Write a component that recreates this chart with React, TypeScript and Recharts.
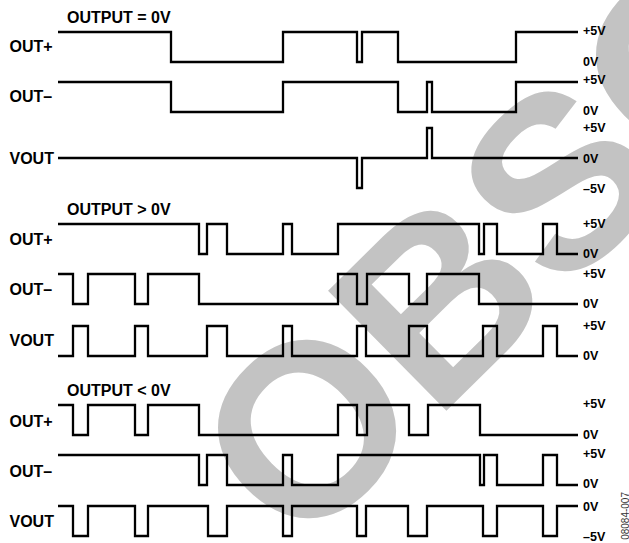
import React from 'react';
import { ComposedChart, Line, XAxis, YAxis } from 'recharts';

const W = 629;
const H = 543;

// Waveforms: [time, volts] – each level holds until the next time point
const S1_OUT_PLUS = [[0, 5], [113, 0], [225, 5], [299, 0], [304, 5], [340, 0], [458, 5], [520, 5]];
const S1_OUT_MINUS = [[0, 5], [113, 0], [225, 5], [340, 0], [369, 5], [374, 0], [458, 5], [520, 5]];
const S1_VOUT = [[0, 0], [299, -5], [304, 0], [369, 5], [374, 0], [520, 0]];

const S2_OUT_PLUS = [[0, 5], [141, 0], [149, 5], [169, 0], [225, 5], [234, 0], [280, 5], [421, 0], [426, 5], [439, 0], [485, 5], [499, 0], [520, 0]];
const S2_OUT_MINUS = [[0, 5], [15, 0], [30, 5], [77, 0], [90, 5], [141, 0], [280, 5], [299, 0], [309, 5], [351, 0], [369, 5], [421, 0], [520, 0]];
const S2_VOUT = [[0, 0], [15, 5], [30, 0], [77, 5], [90, 0], [149, 5], [169, 0], [225, 5], [234, 0], [299, 5], [308, 0], [351, 5], [369, 0], [425, 5], [439, 0], [485, 5], [499, 0], [520, 0]];

const S3_OUT_PLUS = [[0, 5], [15, 0], [30, 5], [77, 0], [90, 5], [141, 0], [280, 5], [299, 0], [309, 5], [351, 0], [370, 5], [422, 0], [520, 0]];
const S3_OUT_MINUS = [[0, 5], [141, 0], [149, 5], [169, 0], [225, 5], [234, 0], [280, 5], [422, 0], [426, 5], [439, 0], [485, 5], [499, 0], [520, 0]];
const S3_VOUT = [[0, 0], [15, -5], [30, 0], [77, -5], [90, 0], [150, -5], [169, 0], [225, -5], [234, 0], [299, -5], [308, 0], [350, -5], [369, 0], [425, -5], [439, 0], [485, -5], [499, 0], [520, 0]];

const SECTION_TITLES = ['OUTPUT = 0V', 'OUTPUT > 0V', 'OUTPUT < 0V'];
const SIGNAL_NAMES = ['OUT+', 'OUT–', 'VOUT'];
const RIGHT_LABELS = [
  ['+5V', '0V'], ['+5V', '0V'], ['+5V', '0V', '–5V'],
  ['+5V', '0V'], ['+5V', '0V'], ['+5V', '0V'],
  ['+5V', '0V'], ['+5V', '0V'], ['0V', '–5V'],
];
const FIG_ID = '08084-007';
const WATERMARK = 'OBSOLETE';

// layout
const X0 = 58;
const X1 = 578;
const PX_PER_VOLT = 6;
const ZERO_Y = [62, 112, 158, 254, 304, 356, 435, 485, 506];
const TITLE_Y = [22.5, 215, 396];
const NAME_Y = [[52, 102, 164], [245, 295, 346], [427, 477, 527]];
const RIGHT_Y = [
  [35, 66], [84, 115], [132, 163, 193],
  [228, 258], [278, 308], [330, 360],
  [408, 439], [458, 488], [511, 541],
];
const WM_X = 299;
const WM_Y = 556;
const WM_ANGLE = -44.6;
const WM_SIZE = 245;

const SERIES = [S1_OUT_PLUS, S1_OUT_MINUS, S1_VOUT, S2_OUT_PLUS, S2_OUT_MINUS, S2_VOUT, S3_OUT_PLUS, S3_OUT_MINUS, S3_VOUT];

const toData = (pts: number[][]) => pts.map(([t, v]) => ({ t, v }));

const FONT = '"Liberation Sans", Arial, Helvetica, sans-serif';

export default function App() {
  return (
    <div style={{ position: 'absolute', left: 0, top: 0, width: W, height: H, background: '#fff', overflow: 'hidden' }}>
      <svg width={W} height={H} style={{ position: 'absolute', left: 0, top: 0 }}>
        <text
          x={WM_X}
          y={WM_Y}
          transform={`rotate(${WM_ANGLE} ${WM_X} ${WM_Y})`}
          fontFamily={FONT}
          fontWeight="bold"
          fontSize={WM_SIZE}
          fill="#c3c3c3"
        >
          {WATERMARK}
        </text>
      </svg>
      <div style={{ position: 'absolute', left: 0, top: 0 }}>
        <ComposedChart width={W} height={H} margin={{ top: 0, right: W - X1, bottom: 0, left: X0 }}>
          <XAxis type="number" dataKey="t" domain={[0, 520]} hide allowDataOverflow />
          {ZERO_Y.map((zy, i) => (
            <YAxis
              key={'y' + i}
              yAxisId={'y' + i}
              type="number"
              domain={[-(H - zy) / PX_PER_VOLT, zy / PX_PER_VOLT]}
              hide
              allowDataOverflow
            />
          ))}
          {SERIES.map((s, i) => (
            <Line
              key={'l' + i}
              yAxisId={'y' + i}
              data={toData(s)}
              dataKey="v"
              type="stepAfter"
              stroke="#000"
              strokeWidth={2.3}
              strokeLinejoin="miter"
              dot={false}
              activeDot={false}
              isAnimationActive={false}
            />
          ))}
        </ComposedChart>
      </div>
      <svg width={W} height={H} style={{ position: 'absolute', left: 0, top: 0, pointerEvents: 'none' }}>
        <g fontFamily={FONT} fontWeight="bold" fill="#000">
          {SECTION_TITLES.map((t, i) => (
            <text key={'t' + i} x={67} y={TITLE_Y[i]} fontSize={16}>{t}</text>
          ))}
          {NAME_Y.map((ys, s) =>
            ys.map((y, j) => (
              <text key={'n' + s + j} x={9.5} y={y} fontSize={16}>{SIGNAL_NAMES[j]}</text>
            ))
          )}
          {RIGHT_LABELS.map((labels, r) =>
            labels.map((lab, j) => (
              <text key={'r' + r + j} x={583} y={RIGHT_Y[r][j]} fontSize={12.5}>{lab}</text>
            ))
          )}
        </g>
        <text
          x={628.5}
          y={492}
          transform="rotate(-90 628.5 492)"
          textAnchor="end"
          fontFamily={FONT}
          fontSize={10}
          fill="#333"
        >
          {FIG_ID}
        </text>
      </svg>
    </div>
  );
}
